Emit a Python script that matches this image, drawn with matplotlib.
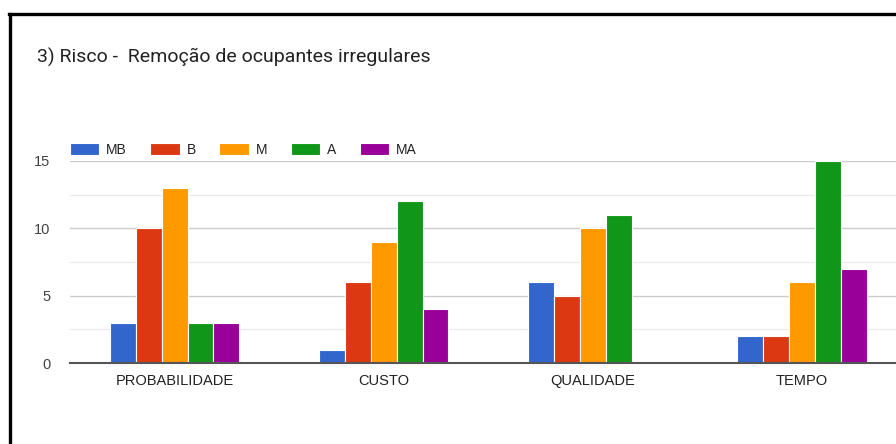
import numpy as np
import matplotlib.pyplot as plt
from matplotlib.lines import Line2D

# Data
categories = ["PROBABILIDADE", "CUSTO", "QUALIDADE", "TEMPO"]
series = ["MB", "B", "M", "A", "MA"]
mb = [3, 1, 6, 2]
b = [10, 6, 5, 2]
m = [13, 9, 10, 6]
a = [3, 12, 11, 15]
ma = [3, 4, 0, 7]
values = [mb, b, m, a, ma]
colors = ["#3366cc", "#dc3912", "#ff9900", "#109618", "#990099"]

title = "3) Risco -  Remoção de ocupantes irregulares"

fig = plt.figure(figsize=(8.96, 4.44), dpi=100)
ax = fig.add_axes([70 / 896, (444 - 363) / 444, 1 - 70 / 896, (363 - 161) / 444])

x = np.arange(len(categories))
w = 0.124
for i, (name, vals) in enumerate(zip(series, values)):
    ax.bar(x + (i - 2) * w, vals, width=w, color=colors[i], edgecolor="white",
           linewidth=0.8, label=name, zorder=3)

ax.set_xlim(-0.5, 3.45)
ax.set_ylim(0, 15)
ax.set_yticks([0, 5, 10, 15])
ax.set_yticks([2.5, 7.5, 12.5], minor=True)
ax.set_xticks(x)
ax.set_xticklabels(categories, fontsize=10.5, color="#222222", family="Liberation Sans")
ax.tick_params(axis="x", length=0, pad=8)
ax.tick_params(axis="y", which="both", length=0, pad=14, labelsize=10.5,
               labelcolor="#444444")
for lab in ax.get_yticklabels():
    lab.set_family("Liberation Sans")
ax.grid(axis="y", which="major", color="#cccccc", linewidth=1, zorder=0)
ax.grid(axis="y", which="minor", color="#ebebeb", linewidth=1, zorder=0)
for s in ax.spines.values():
    s.set_visible(False)
ax.axhline(0, color="#555555", linewidth=1.5, zorder=4, clip_on=False)

leg = ax.legend(loc="center left", bbox_to_anchor=(70 / 896, (444 - 150) / 444),
                bbox_transform=fig.transFigure, ncol=5, frameon=False,
                borderpad=0, borderaxespad=0, handlelength=2.1, handleheight=0.93,
                handletextpad=0.5, columnspacing=1.7,
                prop={"family": "Liberation Sans", "size": 10})
for t in leg.get_texts():
    t.set_color("#222222")

fig.text(37 / 896, (444 - 57) / 444, title, fontsize=14, family="Roboto",
         color="#222222", va="center", ha="left")

# screenshot border
fig.add_artist(Line2D([10 / 896, 10 / 896], [0, 1 - 14.5 / 444],
                      transform=fig.transFigure, color="black", linewidth=2.4))
fig.add_artist(Line2D([8.5 / 896, 1], [1 - 14.5 / 444, 1 - 14.5 / 444],
                      transform=fig.transFigure, color="black", linewidth=2.4))

fig.savefig("out.png", dpi=100)
